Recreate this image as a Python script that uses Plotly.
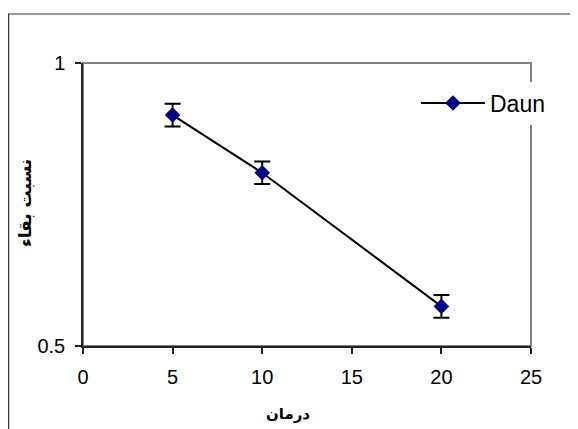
import plotly.graph_objects as go

# Data
dose = [5, 10, 20]
survival = [0.908, 0.806, 0.570]
survival_err = [0.02, 0.02, 0.02]
series_name = "Daun"
x_ticks = [0, 5, 10, 15, 20, 25]
y_ticks = [0.5, 1]
y_tick_text = ["0.5", "1"]
x_title = "درمان"
y_title = "نسبت بقاء"

W, H = 578, 429
OFF = 8  # page body margin
L, T = 75, 55
pw, ph = 448, 283
R = W - L - pw
B = H - T - ph


def sx(px):
    """screen x pixel -> paper fraction"""
    return (px - OFF - L) / pw


def sy(py):
    """screen y pixel -> paper fraction"""
    return (T + ph - (py - OFF)) / ph


fig = go.Figure()
fig.add_trace(go.Scatter(
    x=dose, y=survival, name=series_name, mode="lines+markers",
    line=dict(color="black", width=2),
    marker=dict(symbol="diamond", size=12, color="#000080",
                line=dict(color="#000080", width=0)),
    error_y=dict(type="data", array=survival_err, visible=True,
                 color="black", thickness=2, width=8),
))

font_main = "Arial, 'Liberation Sans', 'DejaVu Sans', sans-serif"
font_ar = "'DejaVu Sans', Arial, sans-serif"

fig.update_layout(
    width=W, height=H,
    margin=dict(l=L, r=R, t=T, b=B, autoexpand=False),
    paper_bgcolor="white", plot_bgcolor="white",
    font=dict(family=font_main, size=20, color="black"),
    showlegend=True,
    legend=dict(
        x=sx(416), y=sy(103),
        xanchor="left", yanchor="middle",
        bgcolor="white", borderwidth=0,
        font=dict(size=23, family=font_main, color="black"),
        itemwidth=64,
    ),
    xaxis=dict(
        range=[0, 25], tickvals=x_ticks, ticks="outside", ticklen=6,
        tickwidth=1.5, tickcolor="#222", showline=True, linecolor="#222",
        linewidth=1.5, showgrid=False, zeroline=False,
        tickfont=dict(size=20), ticklabelstandoff=6,
    ),
    yaxis=dict(
        range=[0.5, 1], tickvals=y_ticks, ticktext=y_tick_text,
        ticks="outside", ticklen=6, tickwidth=1.5, tickcolor="#222",
        showline=True, linecolor="#222", linewidth=1.5, showgrid=False,
        zeroline=False, tickfont=dict(size=20), ticklabelstandoff=6,
    ),
    annotations=[
        dict(text="<b>" + x_title + "</b>", xref="paper", yref="paper",
             x=sx(288), y=sy(414), xanchor="center", yanchor="middle",
             showarrow=False, font=dict(size=15, family=font_ar)),
        dict(text="<b>" + y_title + "</b>", xref="paper", yref="paper",
             x=sx(25), y=sy(203), xanchor="center", yanchor="middle",
             textangle=-90, showarrow=False,
             font=dict(size=17, family=font_ar)),
    ],
    shapes=[
        dict(type="rect", xref="paper", yref="paper", x0=0, x1=1, y0=0, y1=1,
             line=dict(color="#808080", width=2), layer="below"),
        dict(type="rect", xref="paper", yref="paper",
             x0=sx(8.6), x1=sx(640), y0=sy(480), y1=sy(14),
             line=dict(color="#333333", width=1.2), layer="below"),
    ],
)

fig.write_html("out.html")
